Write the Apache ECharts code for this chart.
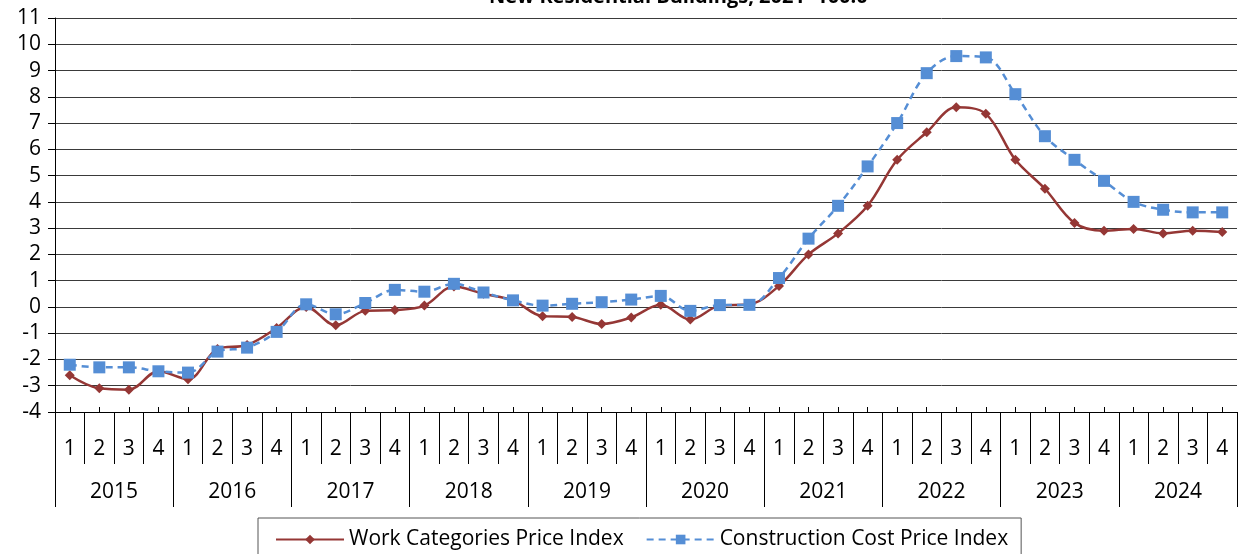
<!DOCTYPE html>
<html>
<head>
<meta charset="utf-8">
<title>New Residential Buildings price indices</title>
<script src="https://cdn.jsdelivr.net/npm/echarts@6/dist/echarts.min.js"></script>
<style>
  html, body { margin: 0; padding: 0; background: #fff; }
  #chart { width: 1239px; height: 554px; }
</style>
</head>
<body>
<div id="chart"></div>
<script>
// categories
const years = ['2015', '2016', '2017', '2018', '2019', '2020', '2021', '2022', '2023', '2024'];
const quarters = [
  '1', '2', '3', '4', '1', '2', '3', '4', '1', '2', '3', '4', '1', '2', '3', '4', '1', '2', '3', '4',
  '1', '2', '3', '4', '1', '2', '3', '4', '1', '2', '3', '4', '1', '2', '3', '4', '1', '2', '3', '4',
];

// series values
const workIndex = [
  -2.6, -3.1, -3.15, -2.45,
  -2.75, -1.6, -1.45, -0.8,
  0.0, -0.7, -0.15, -0.12,
  0.05, 0.78, 0.5, 0.25,
  -0.35, -0.38, -0.65, -0.4,
  0.08, -0.48, 0.05, 0.1,
  0.8, 2.0, 2.8, 3.85,
  5.6, 6.65, 7.6, 7.35,
  5.6, 4.5, 3.2, 2.9,
  2.97, 2.8, 2.9, 2.85,
];
const costIndex = [
  -2.2, -2.3, -2.3, -2.45,
  -2.5, -1.7, -1.55, -0.95,
  0.1, -0.28, 0.15, 0.65,
  0.58, 0.88, 0.55, 0.25,
  0.05, 0.12, 0.18, 0.28,
  0.42, -0.15, 0.07, 0.08,
  1.1, 2.6, 3.85, 5.35,
  7.0, 8.9, 9.55, 9.5,
  8.1, 6.5, 5.6, 4.8,
  4.0, 3.7, 3.6, 3.6,
];

const FONT = '"Open Sans"';

const chart = echarts.init(document.getElementById('chart'));

const option = {
  animation: false,
  backgroundColor: '#fff',
  title: {
    text: 'New Residential Buildings, 2021=100.0',
    left: 484,
    top: -18,
    textStyle: { fontFamily: FONT, fontSize: 20, fontWeight: 'bold', color: '#000' },
  },
  grid: {
    left: 55,
    right: 2,
    top: 18,
    bottom: 142,
    containLabel: false,
    outerBoundsMode: 'none',
  },
  legend: {
    left: 258,
    top: 518,
    itemWidth: 68,
    itemHeight: 12,
    itemGap: 22,
    borderColor: '#555',
    borderWidth: 1,
    borderRadius: 0,
    padding: [11, 13, 10, 17],
    textStyle: { fontFamily: FONT, fontSize: 21, color: '#000' },
    data: ['Work Categories Price Index', 'Construction Cost Price Index'],
  },
  xAxis: [
    {
      type: 'category',
      position: 'bottom',
      data: quarters,
      axisLine: { show: true, onZero: false, lineStyle: { color: '#000', width: 1 } },
      axisTick: { show: true, inside: true, alignWithLabel: true, interval: 0, length: 5, lineStyle: { color: '#000' } },
      axisLabel: { interval: 0, margin: 27, fontFamily: FONT, fontSize: 21, color: '#000' },
      splitLine: { show: false },
    },
    {
      // quarter separators
      type: 'category',
      position: 'bottom',
      data: quarters,
      axisLine: { show: false, onZero: false },
      axisTick: { show: true, interval: 0, length: 52, lineStyle: { color: '#000' } },
      axisLabel: { show: false },
      splitLine: { show: false },
    },
    {
      // year labels + separators
      type: 'category',
      position: 'bottom',
      data: years,
      axisLine: { show: false, onZero: false },
      axisTick: { show: true, interval: 0, length: 95, lineStyle: { color: '#000' } },
      axisLabel: { interval: 0, margin: 70, fontFamily: FONT, fontSize: 21, color: '#000' },
      splitLine: { show: false },
    },
  ],
  yAxis: {
    type: 'value',
    min: -4,
    max: 11,
    interval: 1,
    axisLine: { show: true, lineStyle: { color: '#000', width: 1 } },
    axisTick: { show: true, length: 7, lineStyle: { color: '#000' } },
    axisLabel: { margin: 14, fontFamily: FONT, fontSize: 21, color: '#000' },
    splitLine: { show: true, lineStyle: { color: '#3a3a3a', width: 1 } },
  },
  series: [
    {
      name: 'Work Categories Price Index',
      type: 'line',
      xAxisIndex: 0,
      data: workIndex,
      smooth: 0.35,
      symbol: 'diamond',
      symbolSize: 10,
      color: '#953735',
      lineStyle: { color: '#953735', width: 2.5 },
      itemStyle: { color: '#953735' },
    },
    {
      name: 'Construction Cost Price Index',
      type: 'line',
      xAxisIndex: 0,
      data: costIndex,
      smooth: 0.35,
      symbol: 'rect',
      symbolSize: 12,
      color: '#558ED5',
      lineStyle: { color: '#558ED5', width: 2.5, type: [7, 5] },
      itemStyle: { color: '#558ED5' },
    },
  ],
};

chart.setOption(option);
</script>
</body>
</html>
